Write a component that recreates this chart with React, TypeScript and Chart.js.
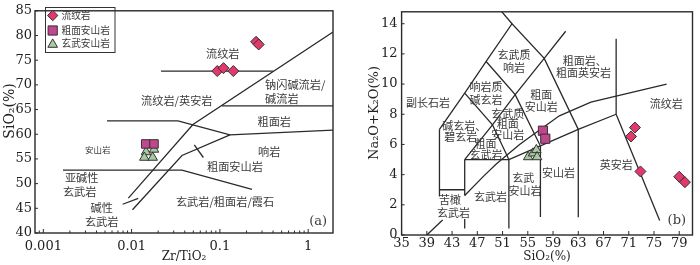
import React, { useEffect, useRef } from 'react';
import { Chart, registerables } from 'chart.js';

Chart.register(...registerables);

// ---------------- shared ----------------
const seriesNames = ['流纹岩', '粗面安山岩', '玄武安山岩'];
const seriesColors = ['#e2386c', '#c2468e', '#a9c9a3'];

// ---------------- panel (a): SiO2 vs Zr/TiO2 ----------------
const aRhyoliteZrTi = [0.0933, 0.1099, 0.1419, 0.2572, 0.275];
const aRhyoliteSiO2 = [72.8, 73.39, 72.8, 78.73, 78.18];
const aTrachyandesiteZrTi = [0.01445, 0.01794];
const aTrachyandesiteSiO2 = [58.04, 58.04];
const aBasAndesiteZrTi = [0.01455, 0.01794, 0.01393, 0.01734];
const aBasAndesiteSiO2 = [56.41, 56.92, 55.29, 55.29];

const aXMin = 0.000805;
const aXMax = 1.91;
const aXTicks = [
  0.0009, 0.001, 0.002, 0.003, 0.004, 0.005, 0.006, 0.007, 0.008, 0.009,
  0.01, 0.02, 0.03, 0.04, 0.05, 0.06, 0.07, 0.08, 0.09,
  0.1, 0.2, 0.3, 0.4, 0.5, 0.6, 0.7, 0.8, 0.9, 1,
];
const aXTickLabels = [
  '', '0.001', '', '', '', '', '', '', '', '',
  '0.01', '', '', '', '', '', '', '', '',
  '0.1', '', '', '', '', '', '', '', '', '1',
];
const aYTicks = [40, 45, 50, 55, 60, 65, 70, 75, 80, 85];

const aRhyoliteLine = [[0.0215, 72.8], [0.399, 72.8]];
const aLineA = [[0.00919, 47.06], [0.0495, 61.96], [1.91, 80.7]];
const aLineB = [[0.00526, 62.69], [0.0335, 62.69], [0.13, 59.86], [1.91, 60.84]];
const aComenditeLine = [[0.1057, 65.75], [1.91, 65.75]];
const aLineC = [[0.01023, 44.7], [0.0372, 55.69], [0.13, 59.86]];
const aSubalkalineLine = [[0.00167, 52.75], [0.0372, 52.75], [0.231, 48.82]];
const aShortLine = [[0.00792, 45.82], [0.0119, 47.0]];
const aLeaderLine = [[0.0513, 57.84], [0.0649, 55.29]];

type Label = { t: string; x: number; y: number; s?: number; a?: CanvasTextAlign; f?: string };

const aLabels: Label[] = [
  { t: '流纹岩', x: 0.1077, y: 76.33 },
  { t: '钠闪碱流岩/', x: 0.3245, y: 70.0, a: 'left' },
  { t: '碱流岩', x: 0.3245, y: 67.25, a: 'left' },
  { t: '流纹岩/英安岩', x: 0.0325, y: 66.86 },
  { t: '粗面岩', x: 0.413, y: 62.49 },
  { t: '安山岩', x: 0.00413, y: 56.92, s: 8.5 },
  { t: '响岩', x: 0.362, y: 56.47 },
  { t: '粗面安山岩', x: 0.148, y: 53.47 },
  { t: '亚碱性', x: 0.00272, y: 51.24 },
  { t: '玄武岩', x: 0.00258, y: 48.43 },
  { t: '玄武岩/粗面岩/霞石', x: 0.1143, y: 46.27 },
  { t: '碱性', x: 0.00458, y: 45.04 },
  { t: '玄武岩', x: 0.00458, y: 42.35 },
  { t: '(a)', x: 1.3, y: 42.22, s: 13, f: 'serif' },
];

// ---------------- panel (b): TAS ----------------
const bRhyoliteSiO2 = [71.98, 71.36, 72.85, 79.0, 79.9];
const bRhyoliteAlk = [7.12, 6.53, 4.21, 3.86, 3.5];
const bTrachyandesiteSiO2 = [57.4, 57.77];
const bTrachyandesiteAlk = [6.91, 6.38];
const bBasAndesiteSiO2 = [55.06, 55.84, 56.36, 56.47];
const bBasAndesiteAlk = [5.17, 5.42, 5.64, 5.17];

const bXMin = 35;
const bXMax = 81.1;
const bYMin = 0;
const bYMax = 14.79;
const bXTicks = [35, 39, 43, 47, 51, 55, 59, 63, 67, 71, 75, 79];
const bYTicks = [0, 2, 4, 6, 8, 10, 12, 14];

const bBoundaries: number[][][] = [
  [[41, 2.55], [41, 7]],
  [[41, 3], [45, 3]],
  [[45, 2.62], [45, 5]],
  [[45, 0.43], [45, 1.06]],
  [[45, 5], [52, 5]],
  [[52, 0.43], [52, 5]],
  [[52, 5], [57, 5.9], [63, 7], [69, 8]],
  [[57, 1.2], [57, 5.9]],
  [[63, 1.17], [63, 7]],
  [[69, 8], [69, 13]],
  [[69, 8], [75.9, 0.96]],
  [[41, 7], [45, 9.4], [48.4, 11.5], [52.5, 14], [57.6, 11.7], [63, 7]],
  [[52.5, 14], [48.4, 16]],
  [[45, 9.4], [49.4, 7.3], [52, 5]],
  [[48.4, 11.5], [53, 9.3], [57, 5.9]],
  [[45, 5], [49.4, 7.3], [53, 9.3], [57.6, 11.7], [61, 13.5]],
  [[39.0, 0], [41.5, 1.0]],
  [[45, 2.62], [48, 3.9], [50, 4.7], [53.7, 6.0], [55, 6.4], [60, 7.9], [65, 8.8], [77, 10.0]],
];

const bLabels: Label[] = [
  { t: '玄武质', x: 52.83, y: 11.91 },
  { t: '响岩', x: 52.83, y: 11.1 },
  { t: '粗面岩、', x: 64.02, y: 11.55 },
  { t: '粗面英安岩', x: 63.81, y: 10.74 },
  { t: '响岩质', x: 48.39, y: 9.83 },
  { t: '碱玄岩', x: 48.39, y: 8.98 },
  { t: '副长石岩', x: 39.17, y: 8.79 },
  { t: '粗面', x: 57.14, y: 9.3 },
  { t: '安山岩', x: 57.14, y: 8.51 },
  { t: '流纹岩', x: 76.94, y: 8.66 },
  { t: '碱玄岩、', x: 44.91, y: 7.23 },
  { t: '碧玄岩', x: 44.39, y: 6.53 },
  { t: '玄武质', x: 51.83, y: 8.02 },
  { t: '粗面', x: 51.83, y: 7.34 },
  { t: '安山岩', x: 51.83, y: 6.64 },
  { t: '粗面', x: 48.3, y: 6.06 },
  { t: '玄武岩', x: 48.39, y: 5.32 },
  { t: '英安岩', x: 69.02, y: 4.68 },
  { t: '安山岩', x: 59.86, y: 4.15 },
  { t: '玄武', x: 54.28, y: 3.78 },
  { t: '安山岩', x: 54.55, y: 2.92 },
  { t: '玄武岩', x: 49.08, y: 2.51 },
  { t: '苦橄', x: 42.67, y: 2.3 },
  { t: '玄武岩', x: 43.23, y: 1.49 },
  { t: '(b)', x: 78.61, y: 0.96, s: 13, f: 'serif' },
];

// ---------------- helpers ----------------
const CJK = '"Noto Sans CJK SC", sans-serif';
const SERIF = '"DejaVu Serif", serif';
const INK = '#2a2a2a';
const TEXT = '#3a3a3a';

const pts = (xs: number[], ys: number[]) => xs.map((x, i) => ({ x, y: ys[i] }));
const linePts = (arr: number[][]) => arr.map(([x, y]) => ({ x, y }));

function markerSets(xsList: number[][], ysList: number[][], sizes: number[]) {
  const styles = ['rectRot', 'rect', 'triangle'];
  return xsList.map((xs, i) => ({
    label: seriesNames[i],
    data: pts(xs, ysList[i]),
    pointStyle: styles[i],
    pointRadius: sizes[i],
    pointBackgroundColor: seriesColors[i],
    pointBorderColor: '#333',
    pointBorderWidth: 1,
    showLine: false,
    order: 0,
  }));
}

function lineSet(arr: number[][]) {
  return {
    data: linePts(arr),
    showLine: true,
    pointRadius: 0,
    borderColor: INK,
    borderWidth: 1.3,
    fill: false,
    tension: 0,
    order: 1,
  };
}

function drawShape(ctx: CanvasRenderingContext2D, kind: number, x: number, y: number, r: number, fill: string) {
  ctx.beginPath();
  if (kind === 0) {
    ctx.moveTo(x, y - r); ctx.lineTo(x + r, y); ctx.lineTo(x, y + r); ctx.lineTo(x - r, y); ctx.closePath();
  } else if (kind === 1) {
    ctx.rect(x - r, y - r, 2 * r, 2 * r);
  } else {
    ctx.moveTo(x, y - r); ctx.lineTo(x + r * 0.866, y + r * 0.5); ctx.lineTo(x - r * 0.866, y + r * 0.5); ctx.closePath();
  }
  ctx.fillStyle = fill; ctx.fill();
  ctx.strokeStyle = '#333'; ctx.lineWidth = 1; ctx.stroke();
}

type YTitle = { text: string; x: number; y: number; size: number };

function decorPlugin(labels: Label[], legend: boolean, labelSize: number, yTitle: YTitle) {
  return {
    id: 'decor',
    afterDatasetsDraw(chart: any) {
      const { ctx, chartArea: a, scales } = chart;
      const xs = scales.x, ys = scales.y;
      ctx.save();
      ctx.fillStyle = TEXT;
      ctx.textBaseline = 'middle';
      for (const l of labels) {
        ctx.font = `${l.s ?? labelSize}px ${l.f === 'serif' ? SERIF : CJK}`;
        ctx.textAlign = l.a ?? 'center';
        ctx.fillText(l.t, xs.getPixelForValue(l.x), ys.getPixelForValue(l.y));
      }
      // y axis title
      ctx.save();
      ctx.translate(yTitle.x, yTitle.y);
      ctx.rotate(-Math.PI / 2);
      ctx.fillStyle = '#222';
      ctx.font = `${yTitle.size}px ${SERIF}`;
      ctx.textAlign = 'center';
      ctx.textBaseline = 'middle';
      ctx.fillText(yTitle.text, 0, 0);
      ctx.restore();
      // frame
      ctx.strokeStyle = INK;
      ctx.lineWidth = 1.4;
      ctx.strokeRect(a.left, a.top, a.right - a.left, a.bottom - a.top);
      ctx.lineWidth = 1;
      ctx.beginPath();
      xs.ticks.forEach((t: any) => {
        const px = xs.getPixelForValue(t.value);
        const len = t.label ? 4 : 2.5;
        ctx.moveTo(px, a.bottom); ctx.lineTo(px, a.bottom - len);
      });
      ys.ticks.forEach((t: any) => {
        const py = ys.getPixelForValue(t.value);
        ctx.moveTo(a.left, py); ctx.lineTo(a.left + 3, py);
      });
      ctx.stroke();
      if (legend) {
        ctx.strokeStyle = '#333';
        ctx.lineWidth = 1;
        ctx.strokeRect(45.5, 7.5, 69.5, 45);
        const rows = [15.5, 30.5, 43.5];
        const rs = [5.2, 4.6, 5.6];
        rows.forEach((ry, i) => {
          drawShape(ctx, i, 52.7, i === 2 ? ry + 1 : ry, rs[i], seriesColors[i]);
          ctx.fillStyle = TEXT;
          ctx.font = `9.7px ${CJK}`;
          ctx.textAlign = 'left';
          ctx.textBaseline = 'middle';
          ctx.fillText(seriesNames[i], 61.5, ry);
        });
      }
      ctx.restore();
    },
  };
}

const tickFont = { family: '"DejaVu Serif", serif', size: 13 };

function leftConfig(): any {
  return {
    type: 'scatter',
    data: {
      datasets: [
        ...markerSets(
          [aRhyoliteZrTi, aTrachyandesiteZrTi, aBasAndesiteZrTi],
          [aRhyoliteSiO2, aTrachyandesiteSiO2, aBasAndesiteSiO2],
          [5.5, 6, 5.5],
        ),
        ...[aRhyoliteLine, aLineA, aLineB, aComenditeLine, aLineC, aSubalkalineLine, aShortLine, aLeaderLine].map(lineSet),
      ],
    },
    options: {
      responsive: false,
      animation: false,
      events: [],
      layout: { padding: { left: 0, right: 17, top: 3.5, bottom: 0 } },
      plugins: { legend: { display: false }, tooltip: { enabled: false } },
      scales: {
        x: {
          type: 'logarithmic',
          min: aXMin,
          max: aXMax,
          afterFit: (s: any) => { s.height = 32; },
          afterBuildTicks: (s: any) => { s.ticks = aXTicks.map((v) => ({ value: v })); },
          ticks: {
            autoSkip: false, maxRotation: 0, minRotation: 0, padding: 6,
            font: tickFont, color: '#222',
            callback: (_v: any, i: number) => aXTickLabels[i],
          },
          grid: { display: false, drawTicks: false },
          border: { display: false },
          title: { display: true, text: 'Zr/TiO₂', font: { family: '"DejaVu Serif", serif', size: 12 }, color: '#222', padding: { top: 0, bottom: 1 } },
        },
        y: {
          type: 'linear',
          min: 40,
          max: 85,
          afterFit: (s: any) => { s.width = 35; },
          afterBuildTicks: (s: any) => { s.ticks = aYTicks.map((v) => ({ value: v })); },
          ticks: { padding: 3, font: tickFont, color: '#222' },
          grid: { display: false, drawTicks: false },
          border: { display: false },
          title: { display: false },
        },
      },
    },
    plugins: [decorPlugin(aLabels, true, 11.2, { text: 'SiO₂(%)', x: 10, y: 111, size: 14 })],
  };
}

function rightConfig(): any {
  return {
    type: 'scatter',
    data: {
      datasets: [
        ...markerSets(
          [bRhyoliteSiO2, bTrachyandesiteSiO2, bBasAndesiteSiO2],
          [bRhyoliteAlk, bTrachyandesiteAlk, bBasAndesiteAlk],
          [5.5, 6.5, 5.5],
        ),
        ...bBoundaries.map(lineSet),
      ],
    },
    options: {
      responsive: false,
      animation: false,
      events: [],
      layout: { padding: { left: 0, right: 3.3, top: 3.3, bottom: 0 } },
      plugins: { legend: { display: false }, tooltip: { enabled: false } },
      scales: {
        x: {
          type: 'linear',
          min: bXMin,
          max: bXMax,
          afterFit: (s: any) => { s.height = 30; },
          afterBuildTicks: (s: any) => { s.ticks = bXTicks.map((v) => ({ value: v })); },
          ticks: { autoSkip: false, maxRotation: 0, minRotation: 0, padding: 1.2, font: tickFont, color: '#222' },
          grid: { display: false, drawTicks: false },
          border: { display: false },
          title: { display: true, text: 'SiO₂(%)', font: { family: '"DejaVu Serif", serif', size: 12 }, color: '#222', padding: { top: 0, bottom: 1 } },
        },
        y: {
          type: 'linear',
          min: bYMin,
          max: bYMax,
          afterFit: (s: any) => { s.width = 51.6; },
          afterBuildTicks: (s: any) => { s.ticks = bYTicks.map((v) => ({ value: v })); },
          ticks: { padding: 4, font: tickFont, color: '#222' },
          grid: { display: false, drawTicks: false },
          border: { display: false },
          title: { display: false },
        },
      },
    },
    plugins: [decorPlugin(bLabels, false, 11, { text: 'Na₂O+K₂O(%)', x: 25, y: 113, size: 13 })],
  };
}

function Panel({ make, left }: { make: () => any; left: number }) {
  const ref = useRef<HTMLCanvasElement>(null);
  useEffect(() => {
    const chart = new Chart(ref.current as HTMLCanvasElement, make());
    return () => chart.destroy();
  }, []);
  return (
    <canvas
      ref={ref}
      width={350}
      height={265}
      style={{ position: 'absolute', left, top: 0, width: 350, height: 265 }}
    />
  );
}

export default function App() {
  useEffect(() => {
    document.body.style.margin = '0';
  }, []);
  return (
    <div style={{ position: 'fixed', left: 0, top: 0, width: 700, height: 265, background: '#fff' }}>
      <Panel make={leftConfig} left={0} />
      <Panel make={rightConfig} left={350} />
    </div>
  );
}
